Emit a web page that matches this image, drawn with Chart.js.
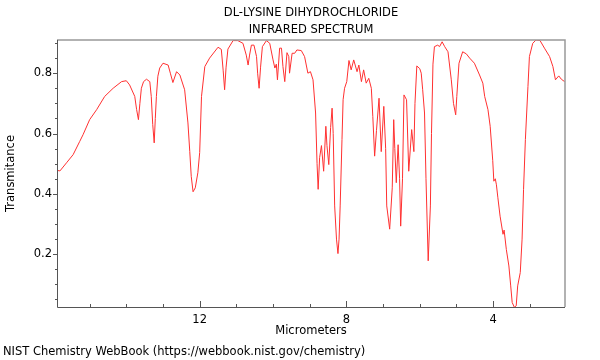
<!DOCTYPE html>
<html>
<head>
<meta charset="utf-8">
<script src="https://cdn.jsdelivr.net/npm/chart.js@4.4.1/dist/chart.umd.min.js"></script>
<style>
  html, body { margin: 0; padding: 0; background: #fff; }
  #wrap { width: 600px; height: 360px; }
</style>
</head>
<body>
<div id="wrap"><canvas id="irChart" width="600" height="360"></canvas></div>
<script>
// wavelength in micrometers
const wavelength = [15.89,15.81,15.63,15.45,15.27,15.18,15.00,14.81,14.59,14.36,14.13,14.00,13.91,13.77,13.72,13.67,13.63,13.59,13.53,13.45,
  13.36,13.32,13.28,13.24,13.21,13.18,13.14,13.09,13.00,12.86,12.80,12.73,12.63,12.54,12.41,12.32,12.27,12.23,12.18,12.12,
  12.05,12.00,11.95,11.86,11.73,11.50,11.41,11.36,11.32,11.28,11.23,11.09,10.96,10.82,10.73,10.68,10.64,10.59,10.52,10.45,
  10.42,10.38,10.34,10.29,10.18,10.09,10.00,9.95,9.91,9.88,9.82,9.77,9.73,9.68,9.62,9.57,9.55,9.48,9.41,9.35,
  9.23,9.14,9.05,8.98,8.91,8.84,8.80,8.77,8.73,8.68,8.62,8.56,8.53,8.48,8.43,8.39,8.36,8.32,8.27,8.23,
  8.20,8.17,8.12,8.09,8.05,7.99,7.93,7.87,7.80,7.71,7.66,7.59,7.53,7.46,7.39,7.32,7.28,7.23,7.18,7.11,
  7.05,6.98,6.93,6.90,6.82,6.75,6.71,6.68,6.64,6.59,6.55,6.52,6.47,6.43,6.36,6.30,6.22,6.16,6.13,6.08,
  6.00,5.96,5.92,5.87,5.83,5.77,5.71,5.68,5.64,5.60,5.51,5.46,5.39,5.32,5.23,5.14,5.08,5.02,4.99,4.93,
  4.83,4.73,4.64,4.51,4.37,4.28,4.23,4.14,4.08,4.01,3.98,3.94,3.91,3.87,3.81,3.73,3.70,3.64,3.57,3.52,
  3.48,3.42,3.37,3.33,3.26,3.21,3.17,3.12,3.05,3.01,2.92,2.83,2.72,2.60,2.46,2.37,2.30,2.21,2.14,2.05];

const transmittance = [0.478,0.476,0.503,0.53,0.574,0.596,0.646,0.679,0.723,0.75,0.772,0.775,0.761,0.723,0.68,0.646,0.70,0.75,0.772,0.78,
  0.772,0.723,0.63,0.569,0.65,0.723,0.79,0.817,0.833,0.827,0.80,0.769,0.805,0.794,0.745,0.635,0.54,0.458,0.407,0.42,
  0.47,0.537,0.723,0.822,0.85,0.886,0.879,0.81,0.745,0.82,0.88,0.908,0.908,0.899,0.86,0.827,0.86,0.893,0.893,0.855,
  0.80,0.75,0.82,0.888,0.908,0.899,0.844,0.817,0.83,0.778,0.883,0.883,0.822,0.772,0.868,0.855,0.80,0.866,0.866,0.877,
  0.875,0.855,0.80,0.805,0.778,0.668,0.50,0.415,0.52,0.56,0.475,0.624,0.56,0.497,0.62,0.684,0.60,0.36,0.25,0.202,
  0.25,0.36,0.58,0.712,0.75,0.772,0.842,0.811,0.844,0.805,0.827,0.772,0.811,0.767,0.783,0.75,0.657,0.525,0.61,0.717,
  0.54,0.69,0.55,0.36,0.283,0.42,0.646,0.55,0.437,0.563,0.45,0.293,0.45,0.728,0.712,0.475,0.613,0.54,0.70,0.824,
  0.815,0.80,0.745,0.668,0.45,0.178,0.36,0.60,0.83,0.888,0.893,0.888,0.904,0.888,0.871,0.778,0.70,0.662,0.723,0.833,
  0.871,0.864,0.85,0.833,0.794,0.767,0.723,0.679,0.624,0.51,0.442,0.45,0.43,0.387,0.326,0.266,0.28,0.216,0.161,0.095,
  0.04,0.024,0.029,0.095,0.139,0.25,0.415,0.58,0.756,0.855,0.899,0.91,0.908,0.883,0.855,0.822,0.778,0.791,0.78,0.772];

// ticks
const xTicks = [15, 14, 13, 12, 11, 10, 9, 8, 7, 6, 5, 4, 3];
const xLabelled = [12, 8, 4];
const yTicks = [0.05, 0.1, 0.15, 0.2, 0.25, 0.3, 0.35, 0.4, 0.45, 0.5, 0.55, 0.6, 0.65, 0.7, 0.75, 0.8, 0.85, 0.9];
const yLabelled = [0.2, 0.4, 0.6, 0.8];

const titleLines = ['DL-LYSINE DIHYDROCHLORIDE', 'INFRARED SPECTRUM'];
const footerText = 'NIST Chemistry WebBook (https://webbook.nist.gov/chemistry)';

const FONT = "'DejaVu Sans', sans-serif";
Chart.defaults.font.family = FONT;
Chart.defaults.font.size = 11.5;
Chart.defaults.color = '#000';

const isOn = (list, v) => list.some(t => Math.abs(t - v) < 1e-6);

// frame, tick marks and texts
const framePlugin = {
    id: 'frame',
    afterDraw(chart) {
        const ctx = chart.ctx;
        const a = chart.chartArea;
        const xs = chart.scales.x, ys = chart.scales.y;
        ctx.save();

        // top and right edges, lighter
        ctx.strokeStyle = '#999';
        ctx.lineWidth = 1.5;
        ctx.beginPath();
        ctx.moveTo(a.left, a.top);
        ctx.lineTo(a.right, a.top);
        ctx.lineTo(a.right, a.bottom);
        ctx.stroke();

        // left and bottom axes
        ctx.strokeStyle = '#555';
        ctx.lineWidth = 1;
        ctx.beginPath();
        ctx.moveTo(a.left + 0.5, a.top);
        ctx.lineTo(a.left + 0.5, a.bottom + 0.5);
        ctx.lineTo(a.right, a.bottom + 0.5);
        ctx.stroke();

        // x ticks point inward
        ctx.beginPath();
        xTicks.forEach(v => {
            const px = Math.round(xs.getPixelForValue(v)) + 0.5;
            const len = isOn(xLabelled, v) ? 6 : 3;
            ctx.moveTo(px, a.bottom);
            ctx.lineTo(px, a.bottom - len);
        });
        // y ticks point outward
        yTicks.forEach(v => {
            const py = Math.round(ys.getPixelForValue(v)) + 0.5;
            const len = isOn(yLabelled, v) ? 4 : 2;
            ctx.moveTo(a.left, py);
            ctx.lineTo(a.left - len, py);
        });
        ctx.stroke();

        // title
        ctx.fillStyle = '#000';
        ctx.font = '11.5px ' + FONT;
        ctx.textAlign = 'center';
        ctx.textBaseline = 'middle';
        const cx = (a.left + a.right) / 2;
        ctx.fillText(titleLines[0], cx, 13);
        ctx.fillText(titleLines[1], cx, 30);

        // footer
        ctx.textAlign = 'left';
        ctx.fillText(footerText, 3, 352);
        ctx.restore();
    }
};

new Chart(document.getElementById('irChart'), {
    type: 'line',
    data: {
        datasets: [{
            label: 'Transmitance',
            data: wavelength.map((w, i) => ({ x: w, y: transmittance[i] })),
            borderColor: '#ff3030',
            borderWidth: 1,
            pointRadius: 0,
            tension: 0,
            fill: false
        }]
    },
    options: {
        responsive: false,
        animation: false,
        layout: { padding: { top: 40, right: 35, bottom: 20, left: 0 } },
        plugins: {
            legend: { display: false },
            tooltip: { enabled: false }
        },
        scales: {
            x: {
                type: 'linear',
                reverse: true,
                min: 2.04,
                max: 15.89,
                grid: { display: false, drawTicks: false },
                border: { display: false },
                afterBuildTicks: s => { s.ticks = xTicks.map(v => ({ value: v })); },
                afterFit: s => { s.height = 33; },
                ticks: {
                    autoSkip: false,
                    maxRotation: 0,
                    padding: 6,
                    callback: v => isOn(xLabelled, v) ? String(v) : ''
                },
                title: { display: true, text: 'Micrometers', padding: { top: 0, bottom: 2 } }
            },
            y: {
                min: 0.025,
                max: 0.91,
                grid: { display: false, drawTicks: false },
                border: { display: false },
                afterBuildTicks: s => { s.ticks = yTicks.map(v => ({ value: v })); },
                afterFit: s => { s.width = 57; },
                ticks: {
                    autoSkip: false,
                    padding: 5,
                    callback: v => isOn(yLabelled, v) ? v.toFixed(1) : ''
                },
                title: { display: true, text: 'Transmitance', padding: { top: 4, bottom: 0 } }
            }
        }
    },
    plugins: [framePlugin]
});
</script>
</body>
</html>
